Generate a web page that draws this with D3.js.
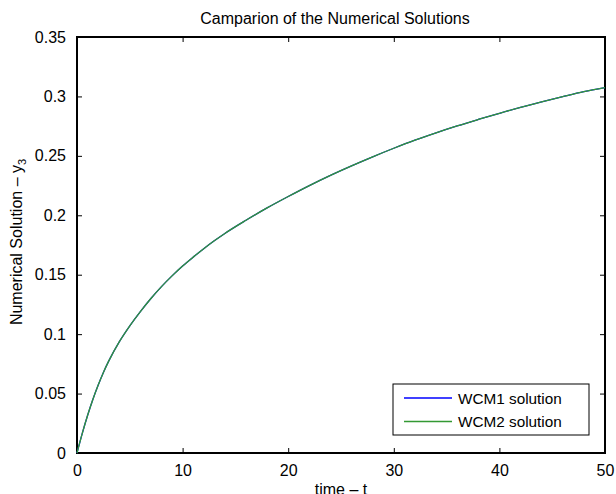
<!DOCTYPE html>
<html><head><meta charset="utf-8">
<script src="https://cdn.jsdelivr.net/npm/d3@7"></script>
<style>body{margin:0;background:#fff}svg{display:block;font-family:"Liberation Sans",Arial,sans-serif}</style>
</head><body><svg id="c" width="616" height="494"></svg>
<script>
const timeT = [0,0.5,1,1.5,2,2.5,3,4,5,6,7,8,9,10,11,12,13,14,16,18,20,22,24,26,28,30,32,34,36,38,40,42,44,46,48,50];
const wcm1 = [0,0.0165,0.0315,0.045,0.057,0.0678,0.0773,0.0935,0.107,0.119,0.130,0.140,0.149,0.1573,0.1648,0.1719,0.1785,0.1847,0.1958,0.2062,0.2158,0.225,0.2336,0.2416,0.2492,0.2564,0.2632,0.2694,0.2752,0.2806,0.2858,0.2908,0.2954,0.2998,0.304,0.3075];
const wcm2 = [0,0.0165,0.0315,0.045,0.057,0.0678,0.0773,0.0935,0.107,0.119,0.130,0.140,0.149,0.1573,0.1648,0.1719,0.1785,0.1847,0.1958,0.2062,0.2158,0.225,0.2336,0.2416,0.2492,0.2564,0.2632,0.2694,0.2752,0.2806,0.2858,0.2908,0.2954,0.2998,0.304,0.3075];
const xTicks = [0,10,20,30,40,50];
const yTicks = [0,0.05,0.1,0.15,0.2,0.25,0.3,0.35];
const seriesNames = ["WCM1 solution","WCM2 solution"];
const seriesColors = ["#0000ff","#339933"];

const svg = d3.select("#c");
const L=77,R=605,T=37,B=453;
const x = d3.scaleLinear().domain([0,50]).range([L,R]);
const y = d3.scaleLinear().domain([0,0.35]).range([B,T]);

const fs = 16;
const gx = svg.append("g").attr("transform",`translate(0,${B})`)
  .call(d3.axisBottom(x).tickValues(xTicks).tickSize(-5).tickPadding(12).tickFormat(d3.format("d")));
const gxt = svg.append("g").attr("transform",`translate(0,${T})`)
  .call(d3.axisTop(x).tickValues(xTicks).tickSize(-5).tickFormat(""));
const gy = svg.append("g").attr("transform",`translate(${L},0)`)
  .call(d3.axisLeft(y).tickValues(yTicks).tickSize(-5).tickPadding(11).tickFormat(d=>d===0?"0":String(+d.toFixed(2))));
const gyr = svg.append("g").attr("transform",`translate(${R},0)`)
  .call(d3.axisRight(y).tickValues(yTicks).tickSize(-5).tickFormat(""));
[gx,gxt,gy,gyr].forEach(g=>{
  g.select(".domain").remove();
  g.selectAll(".tick line").attr("stroke","#000").attr("stroke-width",1);
  g.selectAll("text").attr("font-size",fs).attr("fill","#000").style("font-family","'Liberation Sans',Arial,sans-serif");
});
gx.selectAll("text").attr("dy","0.71em");

svg.append("rect").attr("x",L).attr("y",T).attr("width",R-L).attr("height",B-T)
  .attr("fill","none").attr("stroke","#000").attr("stroke-width",2);

const line = d3.line().x((d,i)=>x(timeT[i])).y(d=>y(d)).curve(d3.curveMonotoneX);
[wcm1,wcm2].forEach((s,k)=>{
  svg.append("path").attr("d",line(s)).attr("fill","none")
    .attr("stroke",seriesColors[k]).attr("stroke-width",1.3);
});

svg.append("text").attr("x",335).attr("y",24).attr("text-anchor","middle")
  .attr("font-size",16).text("Camparion of the Numerical Solutions");

svg.append("text").attr("x",(L+R)/2).attr("y",495).attr("text-anchor","middle")
  .attr("font-size",fs).text("time – t");

const yl = svg.append("text").attr("transform","translate(22,242) rotate(-90)")
  .attr("text-anchor","middle").attr("font-size",fs);
yl.append("tspan").text("Numerical Solution – y");
yl.append("tspan").attr("font-size",11).attr("dy",4).text("3");

const lg = svg.append("g");
lg.append("rect").attr("x",393).attr("y",384).attr("width",196).attr("height",51)
  .attr("fill","#fff").attr("stroke","#000").attr("stroke-width",1);
seriesNames.forEach((n,k)=>{
  const yy = 398 + k*23.5;
  lg.append("line").attr("x1",404).attr("x2",452).attr("y1",yy).attr("y2",yy)
    .attr("stroke",seriesColors[k]).attr("stroke-width",1.3);
  lg.append("text").attr("x",458).attr("y",yy+5.5).attr("font-size",15.3).text(n);
});
</script></body></html>
